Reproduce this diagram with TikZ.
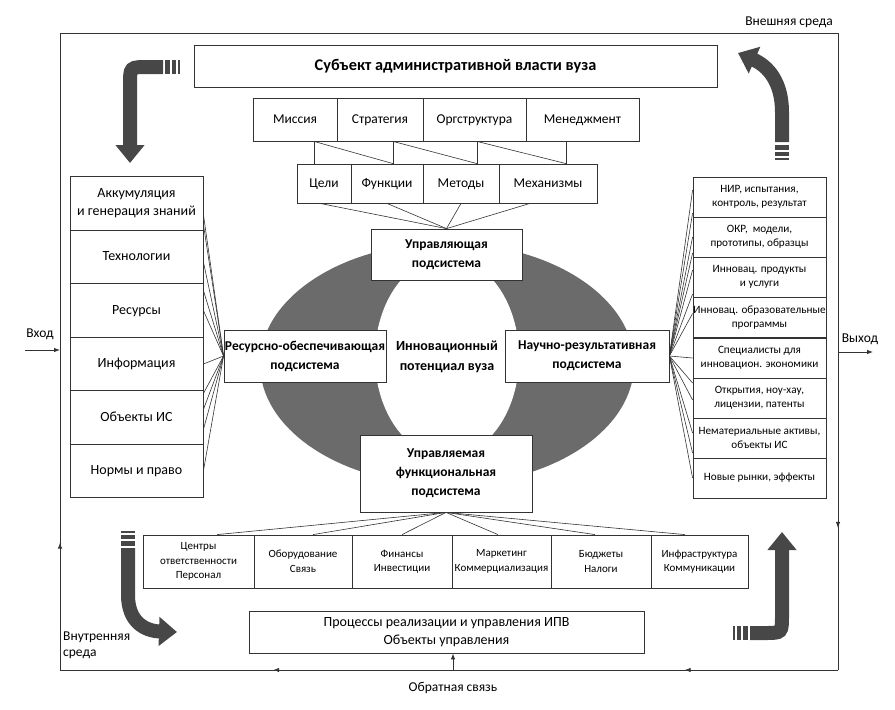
\documentclass[tikz,border=0pt]{standalone}
\usepackage{fontspec}
\setmainfont{Carlito}
\usetikzlibrary{arrows.meta,decorations.markings}

\begin{document}
\begin{tikzpicture}[x=1pt,y=-1pt,
    box/.style={draw=black!80, fill=white, align=center, inner sep=1pt, line width=0.8pt},
    one/.style={text height=10pt, text depth=3pt},
    ttl/.style={font=\fontsize{16.3}{19}\selectfont\bfseries},
    row/.style={font=\fontsize{13.5}{16}\selectfont},
    sub/.style={font=\fontsize{13.5}{19}\selectfont\bfseries},
    col/.style={font=\fontsize{14}{18}\selectfont},
    sml/.style={font=\fontsize{11.2}{13.5}\selectfont, inner xsep=0.5pt},
    bot/.style={font=\fontsize{11}{14.5}\selectfont},
    lbl/.style={font=\fontsize{13.5}{16}\selectfont, inner sep=0pt},
    link/.style={draw=black!80, line width=0.6pt},
    frame/.style={draw=black!80, line width=0.8pt},
    bigarrow/.style={draw=black!72, line width=14pt, -{Triangle[length=18pt,width=28pt]}},
    tail/.style={draw=black!72, line width=14pt, dash pattern=on 5pt off 2pt on 4pt off 2pt on 2pt off 30pt},
    midarrow/.style={postaction={decorate}, decoration={markings,
        mark=at position #1 with {\arrow{Latex[length=6pt,width=4.5pt]}}}},
    midarrows/.style 2 args={postaction={decorate}, decoration={markings,
        mark=at position #1 with {\arrow{Latex[length=6pt,width=4.5pt]}},
        mark=at position #2 with {\arrow{Latex[length=6pt,width=4.5pt]}}}}
  ]
  \useasboundingbox (0,0) rectangle (895,710);

  % potential ring
  \fill[black!58] (447,364) ellipse [x radius=187, y radius=121];
  \fill[white] (447,357) ellipse [x radius=72, y radius=100];

  % environment frame
  \coordinate (NW) at (60,33);
  \coordinate (NE) at (838,33);
  \coordinate (SE) at (838,670);
  \coordinate (SW) at (60,670);
  \draw[frame] (NW) -- (NE);
  \draw[frame, midarrow=0.777] (NE) -- (SE);
  \draw[frame, midarrows={0.197}{0.726}] (SE) -- (SW);
  \draw[frame, midarrow=0.2] (SW) -- (NW);

  \node[lbl, anchor=east] (EXT) at (833,22) {Внешняя среда};
  \node[lbl, align=left, anchor=west] (INT) at (63,645) {Внутренняя\\среда};

  % subject and its levels
  \node[box, ttl, minimum width=523pt, minimum height=42pt] (T) at (455.5,66) {Субъект административной власти вуза};

  \node[box, row, one, minimum width=84pt, minimum height=43pt] (M1) at (295,119.5) {Миссия};
  \node[box, row, one, minimum width=86pt, minimum height=43pt] (M2) at (380,119.5) {Стратегия};
  \node[box, row, one, minimum width=103pt, minimum height=43pt] (M3) at (474.5,119.5) {Оргструктура};
  \node[box, row, one, minimum width=113pt, minimum height=43pt] (M4) at (582.5,119.5) {Менеджмент};

  \node[box, row, one, minimum width=54pt, minimum height=39pt] (G1) at (324,183.5) {Цели};
  \node[box, row, one, minimum width=72pt, minimum height=39pt] (G2) at (387,183.5) {Функции};
  \node[box, row, one, minimum width=76pt, minimum height=39pt] (G3) at (461,183.5) {Методы};
  \node[box, row, one, minimum width=98pt, minimum height=39pt] (G4) at (548,183.5) {Механизмы};

  \draw[link] ([xshift=19pt]M1.south) -- ([xshift=-10pt]G1.north);
  \draw[link] ([xshift=13pt]M2.south) -- ([xshift=6pt]G2.north);
  \draw[link] ([xshift=2.5pt]M3.south) -- ([xshift=16pt]G3.north);
  \draw[link] ([xshift=-16.5pt]M4.south) -- ([xshift=18pt]G4.north);
  \draw[link] ([xshift=19pt]M1.south) -- ([xshift=6pt]G2.north);
  \draw[link] ([xshift=13pt]M2.south) -- ([xshift=16pt]G3.north);
  \draw[link] ([xshift=2.5pt]M3.south) -- ([xshift=18pt]G4.north);

  % subsystems
  \node[box, sub, minimum width=151pt, minimum height=51pt] (U) at (446.5,254.5) {Управляющая\\подсистема};
  \node[box, sub, minimum width=162pt, minimum height=52pt] (R) at (305,356) {Ресурсно-обеспечивающая\\подсистема};
  \node[box, sub, minimum width=164pt, minimum height=52pt] (N) at (587,356) {Научно-результативная\\подсистема};
  \node[box, sub, minimum width=172pt, minimum height=77pt] (F) at (446,473.5) {Управляемая\\функциональная\\подсистема};
  \node[font=\fontsize{14}{20}\selectfont\bfseries, align=center] (C) at (447,357) {Инновационный\\потенциал вуза};

  \foreach \g/\s in {G1/-4,G2/0,G3/0,G4/-18}
    \draw[link] ([xshift=\s pt]\g.south) -- (U.north);

  % resources
  \node[box, col, minimum width=133pt, minimum height=53.5pt] (L1) at (136.5,203.5) {Аккумуляция\\и генерация знаний};
  \node[box, col, one, minimum width=133pt, minimum height=53.5pt] (L2) at (136.5,257) {Технологии};
  \node[box, col, one, minimum width=133pt, minimum height=53.5pt] (L3) at (136.5,310.5) {Ресурсы};
  \node[box, col, one, minimum width=133pt, minimum height=53.5pt] (L4) at (136.5,364) {Информация};
  \node[box, col, one, minimum width=133pt, minimum height=53.5pt] (L5) at (136.5,417.5) {Объекты ИС};
  \node[box, col, one, minimum width=133pt, minimum height=53.5pt] (L6) at (136.5,471) {Нормы и право};

  \foreach \n/\s in {L1/-11,L1/-21,L2/-5,L3/20,L3/0,L4/0,L5/24,L5/8,L5/-12,L6/0}
    \draw[link] (R.west) -- ([yshift=\s pt]\n.east);

  % results
  \node[box, sml, minimum width=133pt, minimum height=40pt] (O1) at (759.5,197) {НИР, испытания,\\контроль, результат};
  \node[box, sml, minimum width=133pt, minimum height=40pt] (O2) at (759.5,237) {ОКР,~ модели,\\прототипы, образцы};
  \node[box, sml, minimum width=133pt, minimum height=40pt] (O3) at (759.5,277) {Инновац. продукты\\и услуги};
  \node[box, sml, minimum width=133pt, minimum height=40pt] (O4) at (759.5,317.5) {Инновац. образовательные\\программы};
  \node[box, sml, minimum width=133pt, minimum height=40pt] (O5) at (759.5,358) {Специалисты для\\инновацион. экономики};
  \node[box, sml, minimum width=133pt, minimum height=40pt] (O6) at (759.5,398) {Открытия, ноу-хау,\\лицензии, патенты};
  \node[box, sml, minimum width=133pt, minimum height=40pt] (O7) at (759.5,438) {Нематериальные активы,\\объекты ИС};
  \node[box, sml, minimum width=133pt, minimum height=40pt] (O8) at (759.5,478) {Новые рынки, эффекты};

  \foreach \n/\s in {O1/7,O1/-16,O2/0,O2/-16,O3/7,O3/-17,O4/4,O5/0,O6/15,O6/-2,O7/5,O7/-15,O8/0}
    \draw[link] (N.east) -- ([yshift=\s pt]\n.west);

  % functional units
  \node[box, bot, minimum width=111pt, minimum height=53pt] (B1) at (198.5,561.5) {Центры\\ответственности\\Персонал};
  \node[box, bot, minimum width=98pt, minimum height=53pt] (B2) at (303,561.5) {Оборудование\\Связь};
  \node[box, bot, minimum width=100pt, minimum height=53pt] (B3) at (402,561.5) {Финансы\\Инвестиции};
  \node[box, bot, minimum width=99pt, minimum height=53pt] (B4) at (501.5,561.5) {Маркетинг\\Коммерциализация};
  \node[box, bot, minimum width=100pt, minimum height=53pt] (B5) at (601,561.5) {Бюджеты\\Налоги};
  \node[box, bot, minimum width=97pt, minimum height=53pt] (B6) at (699.5,561.5) {Инфраструктура\\Коммуникации};

  \foreach \n/\s in {B1/18.5,B2/10,B3/0,B4/-3.5,B5/-6,B6/-14.5}
    \draw[link] (F.south) -- ([xshift=\s pt]\n.north);

  \node[box, font=\fontsize{14}{17.5}\selectfont, minimum width=395pt, minimum height=42pt] (P) at (446.5,632) {Процессы реализации и управления ИПВ\\Объекты управления};

  % input, output, feedback
  \coordinate (IN) at (25,350);
  \coordinate (OUT) at (873,352);
  \coordinate (FB) at (453,670);
  \draw[frame, -{Latex[length=6pt,width=4.5pt]}] (IN) -- (IN -| NW);
  \draw[frame, -{Latex[length=6pt,width=4.5pt]}] (OUT -| NE) -- (OUT);
  \draw[frame, -{Latex[length=6pt,width=4.5pt]}] (FB) -- (FB |- P.south);
  \node[lbl] (INL) at (40,334) {Вход};
  \node[lbl] (OUTL) at (860,339) {Выход};
  \node[lbl] (FBL) at (453,688) {Обратная связь};

  % big turning arrows
  \draw[bigarrow] (163,67) -- (148,67) .. controls (130,67) .. (130,85) -- (130,163);
  \draw[tail] (165,67) -- (195,67);
  \draw[bigarrow] (782,142) -- (782,112) .. controls (782,82) and (768,66) .. (738,53);
  \draw[tail] (782,145) -- (782,175);
  \draw[bigarrow] (128,548) -- (128,595) .. controls (128,622) and (145,631) .. (177,632);
  \draw[tail] (128,546) -- (128,516);
  \draw[bigarrow] (750,633) -- (765,633) .. controls (782,633) .. (782,615) -- (782,532);
  \draw[tail] (748,633) -- (718,633);
\end{tikzpicture}
\end{document}
